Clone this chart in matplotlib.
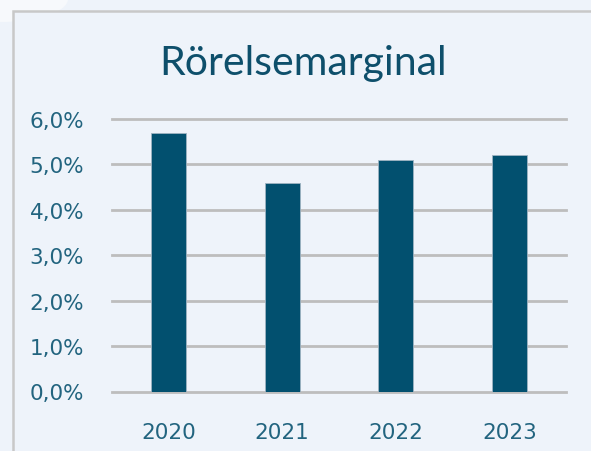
import matplotlib.pyplot as plt
from matplotlib.patches import Rectangle, Ellipse
from matplotlib.ticker import FuncFormatter

# Data
years = ['2020', '2021', '2022', '2023']
margin = [5.7, 4.6, 5.1, 5.2]
yticks = [0, 1, 2, 3, 4, 5, 6]

bg = '#EEF3FA'
bar_colour = '#02506F'
text_colour = '#22647F'

fig = plt.figure(figsize=(5.91, 4.52), dpi=100, facecolor=bg)
W, H = 591, 452

# Whitish corner shape and the frame of the panel
fig.patches.append(Ellipse((0, 1), 2 * 68 / W, 2 * 23 / H, transform=fig.transFigure,
                           facecolor='#F7F9FC', edgecolor='none', zorder=0))
fig.patches.append(Rectangle((13 / W, -0.1), 1.2, 1 - 12 / H + 0.1, transform=fig.transFigure,
                             facecolor=bg, edgecolor='#C8C8C8', linewidth=1.8, zorder=1))

# Axes: x from 112 to 566 px, y from 120 (6%) to 392.5 (0%)
ax = fig.add_axes([112 / W, (H - 392.5) / H, (566 - 112) / W, (392.5 - 120) / H])
ax.set_facecolor('none')
ax.set_zorder(2)

x = range(len(years))
ax.bar(x, margin, width=0.31, color=bar_colour, edgecolor='#9FB3C2', linewidth=0.6, zorder=3)

ax.set_xlim(-0.5, len(years) - 0.5)
ax.set_ylim(0, 6)
ax.set_yticks(yticks)
ax.yaxis.set_major_formatter(FuncFormatter(lambda v, p: f'{v:.1f}%'.replace('.', ',')))
ax.set_xticks(list(x))
ax.set_xticklabels(years)

for v in yticks:
    ax.axhline(v, color='#BDBDBD', linewidth=2, zorder=1, clip_on=False)

for s in ax.spines.values():
    s.set_visible(False)
ax.tick_params(length=0, colors=text_colour, labelsize=15.5)
ax.tick_params(axis='y', pad=20)
ax.tick_params(axis='x', pad=22)

fig.text(303 / W, 1 - 64 / H, 'Rörelsemarginal', ha='center', va='center',
         fontsize=29.5, color='#0E4F6B', family='Lato')

plt.savefig('out.png', dpi=100, facecolor=bg)
